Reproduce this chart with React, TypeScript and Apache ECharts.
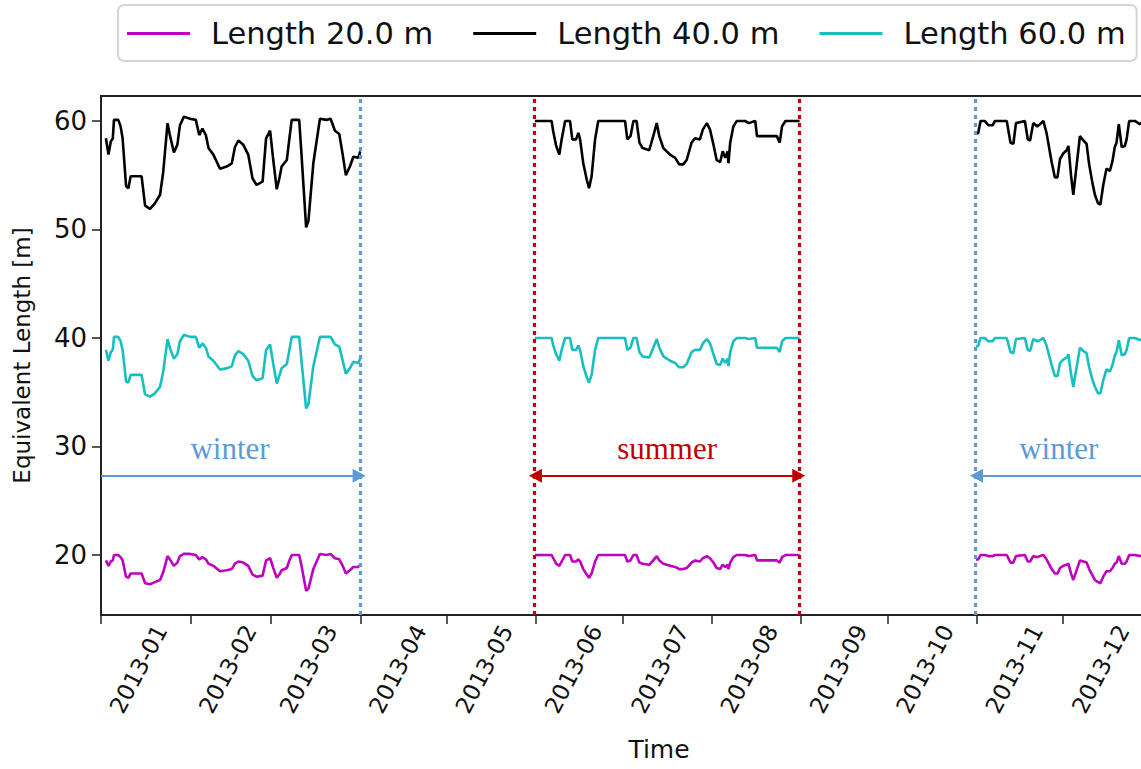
import React, { useEffect, useRef } from "react";
import * as echarts from "echarts";

// ---- tick labels ----
const monthLabels = [
  "2013-01", "2013-02", "2013-03", "2013-04", "2013-05", "2013-06",
  "2013-07", "2013-08", "2013-09", "2013-10", "2013-11", "2013-12",
];
const monthStartDays = [0, 31, 59, 90, 120, 151, 181, 212, 243, 273, 304, 334];
const yTicks = [20, 30, 40, 50, 60];

// ---- time (days since 2013-01-01) ----
const winter1Days = [
  1.7, 2.6, 3.4, 4.1, 4.5, 6.0, 6.8, 7.5, 8.7, 9.5, 10.3, 14.1, 15.3, 17.0, 18.7, 20.5,
  21.6, 23.1, 23.9, 25.3, 26.5, 27.4, 28.8, 30.9, 32.9, 34.1, 35.2, 36.4, 37.3, 39.0,
  41.3, 43.6, 45.4, 46.5, 47.7, 49.4, 51.1, 52.6, 54.0, 56.1, 57.3, 58.7, 59.8, 61.0,
  61.9, 62.7, 64.5, 65.4, 66.2, 68.8, 69.6, 71.2, 72.0, 73.7, 76.0, 78.3, 79.7, 81.2,
  82.7, 83.9, 85.0, 86.4, 87.6, 89.3, 90.0,
];
const summerDays = [
  150.6, 156.4, 157.0, 158.0, 159.1, 159.9, 161.1, 162.8, 163.6, 164.9, 165.7, 166.3,
  167.4, 168.6, 169.4, 170.3, 171.5, 172.6, 181.9, 182.7, 183.8, 184.8, 185.9, 186.9,
  188.0, 190.3, 191.7, 192.9, 193.8, 195.2, 197.5, 199.3, 200.7, 202.1, 203.3, 205.0,
  206.2, 207.9, 208.9, 210.3, 211.4, 212.6, 213.7, 214.9, 215.8, 216.7, 217.5, 217.8,
  218.4, 219.5, 220.7, 223.6, 224.8, 227.1, 227.7, 234.6, 235.6, 236.4, 237.6, 242.5,
];
const winter2Days = [
  303.7, 304.5, 305.3, 306.8, 308.0, 309.5, 310.3, 314.4, 315.7, 316.7, 317.6, 320.7,
  321.7, 322.5, 323.6, 325.0, 325.9, 327.1, 328.2, 330.0, 331.1, 332.0, 332.9, 334.0,
  335.2, 335.8, 336.7, 337.5, 338.4, 339.8, 341.0, 342.1, 343.0, 344.2, 345.0, 346.1,
  346.9, 347.9, 349.0, 350.2, 351.1, 351.9, 352.5, 353.3, 354.3, 355.4, 356.0, 356.9,
  358.9, 360.6, 362.0,
];

// ---- "Length 40.0 m" (black) ----
const len40Winter1 = [
  58.4, 56.9, 58.1, 58.4, 60.1, 60.1, 59.5, 58.4, 54.0, 53.8, 54.9, 54.9, 52.2, 51.9, 52.4, 53.2,
  55.3, 59.8, 58.7, 57.1, 57.8, 59.6, 60.4, 60.2, 60.1, 58.7, 59.3, 58.7, 57.5, 56.9,
  55.6, 55.8, 56.1, 57.6, 58.2, 57.8, 56.9, 54.7, 54.1, 54.4, 58.4, 59.1, 56.4, 53.7,
  54.7, 55.8, 56.4, 58.4, 60.1, 60.1, 56.9, 50.2, 50.8, 56.1, 60.2, 60.1, 60.2, 59.1,
  58.8, 56.9, 55.0, 55.8, 56.7, 56.6, 57.2,
];
const len40Summer = [
  60.0, 60.0, 59.0, 57.7, 56.9, 58.3, 60.0, 60.0, 58.3, 58.3, 58.9, 58.3,
  56.1, 54.6, 53.8, 54.9, 58.3, 60.0, 60.0, 58.3, 58.6, 60.0, 60.0, 58.0,
  57.5, 57.3, 58.6, 59.8, 58.6, 57.5, 56.9, 56.6, 56.0, 56.0, 56.4, 58.0,
  58.4, 58.3, 59.2, 59.8, 59.2, 57.8, 56.4, 56.2, 57.2, 56.6, 57.2, 56.1,
  58.0, 59.5, 60.0, 60.0, 59.8, 60.0, 58.6, 58.6, 58.0, 59.5, 60.0, 60.0,
];
const len40Winter2 = [
  58.8, 58.9, 60.0, 60.0, 59.6, 59.6, 60.0, 60.0, 58.0, 57.9, 59.8, 60.0,
  58.3, 58.2, 59.8, 59.5, 59.7, 60.0, 58.9, 56.2, 54.8, 54.8, 56.5, 57.0,
  57.3, 57.7, 55.0, 53.2, 55.3, 58.6, 58.2, 57.9, 56.0, 54.2, 53.2, 52.4,
  52.3, 54.1, 55.6, 55.4, 56.3, 57.6, 58.0, 59.7, 57.6, 57.7, 58.3, 60.0,
  60.0, 59.7, 60.0,
];

// ---- "Length 60.0 m" (cyan) ----
const len60Winter1 = [
  38.9, 37.9, 38.7, 38.9, 40.1, 40.1, 39.7, 38.9, 36.0, 35.9, 36.6, 36.6, 34.8, 34.6, 34.9, 35.5,
  36.9, 39.9, 39.1, 38.1, 38.5, 39.7, 40.3, 40.1, 40.1, 39.1, 39.5, 39.1, 38.3, 37.9,
  37.1, 37.2, 37.4, 38.4, 38.8, 38.5, 37.9, 36.5, 36.1, 36.3, 38.9, 39.4, 37.6, 35.8,
  36.5, 37.2, 37.6, 38.9, 40.1, 40.1, 37.9, 33.5, 33.9, 37.4, 40.1, 40.1, 40.1, 39.4,
  39.2, 37.9, 36.7, 37.2, 37.8, 37.7, 38.1,
];
const len60Summer = [
  40.0, 40.0, 39.3, 38.5, 37.9, 38.9, 40.0, 40.0, 38.9, 38.9, 39.3, 38.9,
  37.4, 36.4, 35.9, 36.6, 38.9, 40.0, 40.0, 38.9, 39.1, 40.0, 40.0, 38.7,
  38.3, 38.2, 39.1, 39.9, 39.1, 38.3, 37.9, 37.7, 37.3, 37.3, 37.6, 38.7,
  38.9, 38.9, 39.5, 39.9, 39.5, 38.5, 37.6, 37.5, 38.1, 37.7, 38.1, 37.4,
  38.7, 39.7, 40.0, 40.0, 39.9, 40.0, 39.1, 39.1, 38.7, 39.7, 40.0, 40.0,
];
const len60Winter2 = [
  39.2, 39.3, 40.0, 40.0, 39.7, 39.7, 40.0, 40.0, 38.7, 38.6, 39.9, 40.0,
  38.9, 38.8, 39.9, 39.7, 39.8, 40.0, 39.3, 37.5, 36.5, 36.5, 37.7, 38.0,
  38.2, 38.5, 36.7, 35.5, 36.9, 39.1, 38.8, 38.6, 37.3, 36.1, 35.5, 34.9,
  34.9, 36.1, 37.1, 36.9, 37.5, 38.4, 38.7, 39.8, 38.4, 38.5, 38.9, 40.0,
  40.0, 39.8, 40.0,
];

// ---- "Length 20.0 m" (magenta) ----
const len20Winter1 = [
  19.5, 19.0, 19.4, 19.5, 20.0, 20.0, 19.8, 19.5, 18.0, 17.9, 18.3, 18.3, 17.4, 17.3, 17.5, 17.7,
  18.4, 19.9, 19.6, 19.0, 19.3, 19.9, 20.1, 20.1, 20.0, 19.6, 19.8, 19.6, 19.2, 19.0,
  18.5, 18.6, 18.7, 19.2, 19.4, 19.3, 19.0, 18.2, 18.0, 18.1, 19.5, 19.7, 18.8, 17.9,
  18.2, 18.6, 18.8, 19.5, 20.0, 20.0, 19.0, 16.7, 16.9, 18.7, 20.1, 20.0, 20.1, 19.7,
  19.6, 19.0, 18.3, 18.6, 18.9, 18.9, 19.1,
];
const len20Summer = [
  20.0, 20.0, 19.7, 19.2, 19.0, 19.4, 20.0, 20.0, 19.4, 19.4, 19.6, 19.4,
  18.7, 18.2, 17.9, 18.3, 19.4, 20.0, 20.0, 19.4, 19.5, 20.0, 20.0, 19.3,
  19.2, 19.1, 19.5, 19.9, 19.5, 19.2, 19.0, 18.9, 18.7, 18.7, 18.8, 19.3,
  19.5, 19.4, 19.7, 19.9, 19.7, 19.3, 18.8, 18.7, 19.1, 18.9, 19.1, 18.7,
  19.3, 19.8, 20.0, 20.0, 19.9, 20.0, 19.5, 19.5, 19.3, 19.8, 20.0, 20.0,
];
const len20Winter2 = [
  19.6, 19.6, 20.0, 20.0, 19.9, 19.9, 20.0, 20.0, 19.3, 19.3, 19.9, 20.0,
  19.4, 19.4, 19.9, 19.8, 19.9, 20.0, 19.6, 18.7, 18.3, 18.3, 18.8, 19.0,
  19.1, 19.2, 18.3, 17.7, 18.4, 19.5, 19.4, 19.3, 18.7, 18.1, 17.7, 17.5,
  17.4, 18.0, 18.5, 18.5, 18.8, 19.2, 19.3, 19.9, 19.2, 19.2, 19.4, 20.0,
  20.0, 19.9, 20.0,
];

// ---- season markers (days) ----
const winterEndDay = 90;
const summerStartDay = 150.5;
const summerEndDay = 242.5;
const winterStartDay = 303.5;
const arrowLevel = 27.3;
const xMax = 361;

const BLUE = "#5B9BD5";
const RED = "#C00000";
const FONT = "DejaVu Sans";

function joinPeriods(w1: number[], s: number[], w2: number[]) {
  const out: any[] = [];
  winter1Days.forEach((d, i) => out.push([d, w1[i]]));
  out.push([120, "-"]);
  summerDays.forEach((d, i) => out.push([d, s[i]]));
  out.push([270, "-"]);
  winter2Days.forEach((d, i) => out.push([d, w2[i]]));
  return out;
}

export default function App() {
  const ref = useRef<HTMLDivElement>(null);
  useEffect(() => {
    if (!ref.current) return;
    const chart = echarts.init(ref.current, undefined, { renderer: "svg" });
    const labelShift = 13;
    const arrowLabel = (text: string, color: string) => ({
      show: true,
      position: "insideMiddleTop",
      formatter: text,
      color,
      fontFamily: "Liberation Serif",
      fontSize: 31,
      distance: 12,
    });
    const vLine = (x: number, color: string) => ({
      xAxis: x,
      lineStyle: { color, width: 3.2, type: [4, 4] },
      label: { show: false },
    });
    chart.setOption({
      animation: false,
      backgroundColor: "#ffffff",
      legend: {
        left: 118,
        top: 5,
        width: 1015,
        padding: [13, 11, 12, 9],
        itemGap: 40,
        itemWidth: 63,
        itemHeight: 3,
        icon: "rect",
        borderColor: "#d4d4d4",
        borderWidth: 2,
        borderRadius: 6,
        backgroundColor: "#ffffff",
        textStyle: { fontFamily: FONT, fontSize: 30.5, color: "#111", padding: [0, 0, 0, 16] },
        data: ["Length 20.0 m", "Length 40.0 m", "Length 60.0 m"],
      },
      grid: { left: 101, right: 0, top: 96, bottom: 154 },
      xAxis: [
        {
          type: "value",
          min: 0,
          max: xMax,
          name: "Time",
          nameLocation: "middle",
          nameGap: 122,
          nameTextStyle: { fontFamily: FONT, fontSize: 25, color: "#111", padding: [0, 0, 0, 76] },
          axisLine: { show: true, lineStyle: { color: "#222", width: 2 } },
          axisTick: {
            show: true,
            length: 9,
            lineStyle: { color: "#222", width: 1.5 },
            customValues: monthStartDays,
          },
          axisLabel: {
            customValues: monthStartDays.map((d) => d + labelShift),
            rotate: 62,
            align: "center",
            verticalAlign: "middle",
            margin: 54,
            fontFamily: FONT,
            fontSize: 23,
            color: "#111",
            formatter: (v: number) => {
              const i = monthStartDays.findIndex((d) => Math.abs(d + labelShift - v) < 0.5);
              return i >= 0 ? monthLabels[i] : "";
            },
          },
          splitLine: { show: false },
        },
        {
          type: "value",
          position: "top",
          min: 0,
          max: xMax,
          axisLine: { show: true, onZero: false, lineStyle: { color: "#222", width: 2 } },
          axisTick: { show: false },
          axisLabel: { show: false },
          splitLine: { show: false },
        },
      ],
      yAxis: {
        type: "value",
        min: 14.47,
        max: 62.3,
        name: "Equivalent Length [m]",
        nameLocation: "middle",
        nameGap: 68,
        nameTextStyle: { fontFamily: FONT, fontSize: 23, color: "#111" },
        axisLine: { show: true, lineStyle: { color: "#222", width: 2 } },
        axisTick: { show: true, length: 9, lineStyle: { color: "#222", width: 1.5 }, customValues: yTicks },
        axisLabel: { customValues: yTicks, margin: 14, fontFamily: FONT, fontSize: 26, color: "#111" },
        splitLine: { show: false },
      },
      series: [
        {
          name: "Length 20.0 m",
          type: "line",
          data: joinPeriods(len20Winter1, len20Summer, len20Winter2),
          showSymbol: false,
          connectNulls: false,
          lineStyle: { color: "#BF00BF", width: 2.6 },
          itemStyle: { color: "#BF00BF" },
        },
        {
          name: "Length 40.0 m",
          type: "line",
          data: joinPeriods(len40Winter1, len40Summer, len40Winter2),
          showSymbol: false,
          connectNulls: false,
          lineStyle: { color: "#000000", width: 2.6 },
          itemStyle: { color: "#000000" },
          markLine: {
            silent: true,
            animation: false,
            symbol: ["none", "none"],
            data: [
              vLine(winterEndDay, BLUE),
              vLine(summerStartDay, RED),
              vLine(summerEndDay, RED),
              vLine(winterStartDay, BLUE),
              [
                { coord: [0, arrowLevel], symbol: "none", lineStyle: { color: BLUE, width: 2, type: "solid" }, label: arrowLabel("winter", BLUE) },
                { coord: [winterEndDay - 0.4, arrowLevel], symbol: "triangle", symbolSize: [14, 13] },
              ],
              [
                { coord: [summerStartDay + 0.3, arrowLevel], symbol: "triangle", symbolSize: [14, 13], lineStyle: { color: RED, width: 2, type: "solid" }, label: arrowLabel("summer", RED) },
                { coord: [summerEndDay - 0.3, arrowLevel], symbol: "triangle", symbolSize: [14, 13] },
              ],
              [
                { coord: [xMax, arrowLevel], symbol: "none", lineStyle: { color: BLUE, width: 2, type: "solid" }, label: arrowLabel("winter", BLUE) },
                { coord: [winterStartDay + 0.4, arrowLevel], symbol: "triangle", symbolSize: [14, 13] },
              ],
            ],
          },
        },
        {
          name: "Length 60.0 m",
          type: "line",
          data: joinPeriods(len60Winter1, len60Summer, len60Winter2),
          showSymbol: false,
          connectNulls: false,
          lineStyle: { color: "#17BFBF", width: 2.6 },
          itemStyle: { color: "#17BFBF" },
        },
      ],
    });
    return () => chart.dispose();
  }, []);
  return <div ref={ref} style={{ width: 1141, height: 769, position: "absolute", left: 0, top: 0, overflow: "hidden" }} />;
}
